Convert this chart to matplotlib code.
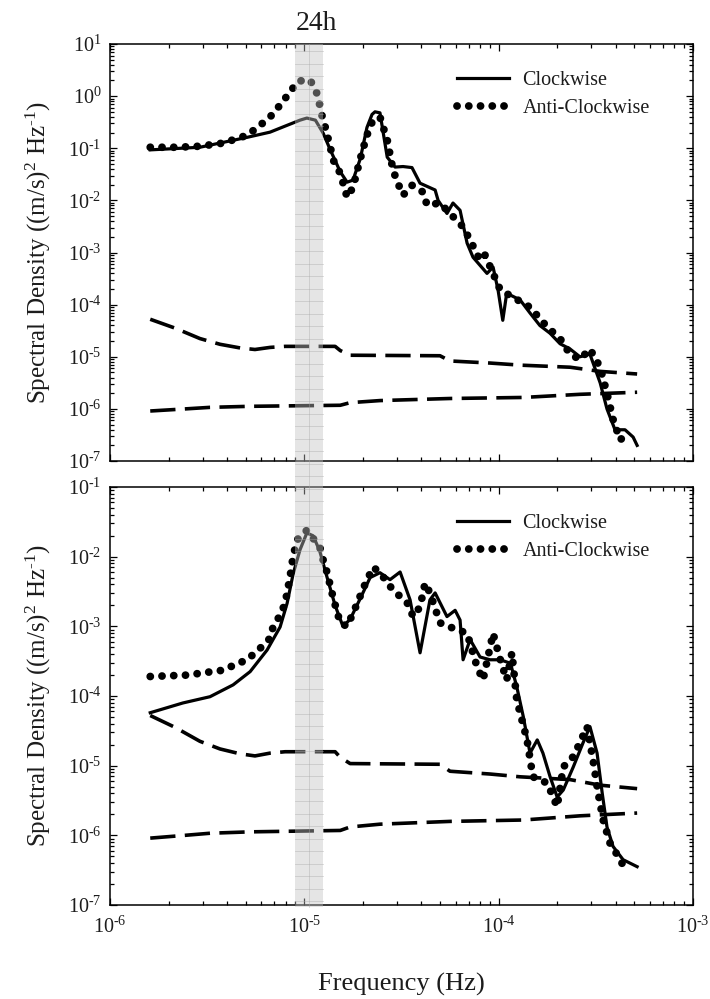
import numpy as np
import matplotlib
matplotlib.use("Agg")
import matplotlib.pyplot as plt
import matplotlib.transforms as mtransforms
from matplotlib.patches import Rectangle
from matplotlib.lines import Line2D
from matplotlib.ticker import LogLocator, NullFormatter, FuncFormatter

plt.rcParams["font.family"] = ["Liberation Serif", "DejaVu Serif"]
plt.rcParams["mathtext.fontset"] = "custom"
plt.rcParams["mathtext.rm"] = "Liberation Serif"
plt.rcParams["mathtext.it"] = "Liberation Serif:italic"
plt.rcParams["mathtext.bf"] = "Liberation Serif:bold"

# (frequency Hz, log10 spectral density)
top_cw = [(1.61e-6, -1.03), (2.90e-6, -0.98), (5.07e-6, -0.79), (6.66e-6, -0.69), (7.77e-6, -0.59),
          (9.50e-6, -0.46), (1.03e-5, -0.42), (1.14e-5, -0.46), (1.25e-5, -0.71), (1.36e-5, -1.03),
          (1.53e-5, -1.45), (1.66e-5, -1.65), (1.78e-5, -1.61), (1.94e-5, -1.20), (2.10e-5, -0.60),
          (2.23e-5, -0.35), (2.31e-5, -0.30), (2.45e-5, -0.32), (2.67e-5, -1.17), (2.93e-5, -1.36),
          (3.22e-5, -1.35), (3.58e-5, -1.37), (3.94e-5, -1.67), (4.71e-5, -1.80), (4.88e-5, -2.00),
          (5.42e-5, -2.25), (5.82e-5, -2.05), (6.33e-5, -2.19), (6.88e-5, -2.82), (7.38e-5, -3.09),
          (8.71e-5, -3.40), (9.36e-5, -3.28), (9.93e-5, -3.72), (1.05e-4, -4.30), (1.10e-4, -3.78),
          (1.29e-4, -3.91), (1.45e-4, -4.16), (1.63e-4, -4.40), (1.84e-4, -4.55), (2.07e-4, -4.75),
          (2.33e-4, -4.85), (2.62e-4, -5.00), (2.95e-4, -4.95), (3.33e-4, -5.50), (3.61e-4, -6.00),
          (3.97e-4, -6.40), (4.47e-4, -6.40), (4.92e-4, -6.54), (5.16e-4, -6.70)]

top_acw = [(1.61e-6, -0.98), (2.21e-6, -0.98), (2.90e-6, -0.96), (3.82e-6, -0.90), (5.07e-6, -0.75),
           (5.78e-6, -0.59), (6.66e-6, -0.40), (7.50e-6, -0.17), (8.44e-6, 0.08), (9.29e-6, 0.29),
           (1.07e-5, 0.31), (1.15e-5, 0.10), (1.19e-5, -0.11), (1.23e-5, -0.36), (1.28e-5, -0.59),
           (1.36e-5, -0.98), (1.41e-5, -1.23), (1.53e-5, -1.48), (1.66e-5, -1.94), (1.78e-5, -1.75),
           (1.94e-5, -1.20), (2.10e-5, -0.75), (2.23e-5, -0.50), (2.37e-5, -0.42), (2.45e-5, -0.40),
           (2.67e-5, -0.84), (2.86e-5, -1.42), (3.03e-5, -1.67), (3.22e-5, -1.90), (3.58e-5, -1.71),
           (4.08e-5, -1.84), (4.28e-5, -2.09), (4.99e-5, -2.05), (5.42e-5, -2.19), (6.56e-5, -2.51),
           (7.13e-5, -2.76), (8.02e-5, -3.15), (8.51e-5, -3.05), (9.36e-5, -3.40), (1.02e-4, -3.72),
           (1.19e-4, -3.86), (1.45e-4, -4.05), (1.78e-4, -4.43), (2.07e-4, -4.65), (2.33e-4, -4.95),
           (2.62e-4, -5.05), (2.95e-4, -4.85), (3.33e-4, -5.20), (3.61e-4, -5.70), (3.88e-4, -6.20),
           (4.22e-4, -6.60), (4.58e-4, -6.45)]

bot_cw = [(1.61e-6, -4.24), (2.37e-6, -4.10), (3.27e-6, -4.01), (4.30e-6, -3.84), (5.26e-6, -3.65),
          (6.43e-6, -3.34), (7.50e-6, -3.01), (8.15e-6, -2.67), (8.75e-6, -2.25), (9.50e-6, -1.90),
          (1.03e-5, -1.66), (1.11e-5, -1.70), (1.20e-5, -1.92), (1.31e-5, -2.30), (1.44e-5, -2.70),
          (1.58e-5, -3.00), (1.72e-5, -2.90), (1.94e-5, -2.60), (2.18e-5, -2.30), (2.45e-5, -2.23),
          (2.76e-5, -2.33), (3.11e-5, -2.22), (3.50e-5, -2.62), (3.94e-5, -3.38), (4.43e-5, -2.62),
          (4.71e-5, -2.52), (5.42e-5, -2.86), (5.97e-5, -2.77), (6.33e-5, -2.91), (6.56e-5, -3.48),
          (7.13e-5, -3.19), (8.02e-5, -3.44), (9.03e-5, -3.48), (1.02e-4, -3.48), (1.15e-4, -3.53),
          (1.24e-4, -3.87), (1.34e-4, -4.30), (1.45e-4, -4.82), (1.58e-4, -4.63), (1.69e-4, -4.82),
          (1.84e-4, -5.16), (2.00e-4, -5.45), (2.15e-4, -5.35), (2.42e-4, -5.02), (2.72e-4, -4.67),
          (2.95e-4, -4.44), (3.21e-4, -4.82), (3.41e-4, -5.39), (3.61e-4, -5.88), (3.88e-4, -6.16),
          (4.37e-4, -6.35), (5.16e-4, -6.45)]

bot_acw = [(1.61e-6, -3.72), (2.49e-6, -3.70), (3.35e-6, -3.65), (3.82e-6, -3.63), (4.40e-6, -3.55),
           (5.07e-6, -3.48), (5.85e-6, -3.33), (6.66e-6, -3.17), (6.90e-6, -3.01), (7.50e-6, -2.84),
           (7.96e-6, -2.67), (8.44e-6, -2.29), (8.75e-6, -2.00), (9.17e-6, -1.76), (1.03e-5, -1.62),
           (1.20e-5, -1.86), (1.25e-5, -2.05), (1.31e-5, -2.23), (1.41e-5, -2.60), (1.53e-5, -2.95),
           (1.66e-5, -3.00), (1.82e-5, -2.75), (2.05e-5, -2.40), (2.26e-5, -2.15), (2.45e-5, -2.23),
           (2.86e-5, -2.48), (3.38e-5, -2.66), (3.63e-5, -2.86), (3.94e-5, -2.72), (4.18e-5, -2.38),
           (4.43e-5, -2.52), (4.99e-5, -2.95), (5.62e-5, -3.01), (6.88e-5, -3.10), (7.74e-5, -3.58),
           (8.31e-5, -3.77), (9.36e-5, -3.10), (1.02e-4, -3.48), (1.10e-4, -3.77), (1.17e-4, -3.38),
           (1.24e-4, -4.06), (1.40e-4, -4.63), (1.50e-4, -5.16), (1.78e-4, -5.25), (2.00e-4, -5.59),
           (2.15e-4, -5.02), (2.42e-4, -4.87), (2.62e-4, -4.67), (2.85e-4, -4.44), (3.06e-4, -4.92),
           (3.25e-4, -5.39), (3.45e-4, -5.78), (3.74e-4, -6.11), (4.22e-4, -6.35), (4.58e-4, -6.54)]

# confidence limits, same in both panels
upper_lim = [(1.61e-6, -4.28), (2.16e-6, -4.45), (2.90e-6, -4.65), (3.68e-6, -4.76), (4.67e-6, -4.83),
             (5.57e-6, -4.86), (6.66e-6, -4.82), (7.96e-6, -4.80), (1.44e-5, -4.80), (1.53e-5, -4.88),
             (1.72e-5, -4.97), (4.99e-5, -4.98), (5.62e-5, -5.08), (9.03e-5, -5.12), (1.29e-4, -5.16),
             (2.33e-4, -5.20), (3.33e-4, -5.28), (5.16e-4, -5.33)]
lower_lim = [(1.61e-6, -6.04), (2.43e-6, -6.00), (3.27e-6, -5.97), (5.26e-6, -5.95), (1.53e-5, -5.93),
             (1.72e-5, -5.88), (2.45e-5, -5.84), (5.62e-5, -5.80), (1.34e-4, -5.78), (2.62e-4, -5.72),
             (5.16e-4, -5.68)]

band_lo, band_hi = 9.0e-6, 1.25e-5
f_24h = 1.0 / 86400.0

ink = "#1c1c1c"
HY = "\u2010"  # the figure uses a short hyphen in exponents


def pow_label(v, pos):
    e = int(round(np.log10(v)))
    s = (HY + str(-e)) if e < 0 else str(e)
    return "10$^{\\mathregular{" + s + "}}$"


fig = plt.figure(figsize=(7.10, 9.99), dpi=100)
ax_top = fig.add_axes([0.155, 0.5385, 0.821, 0.4174])
ax_bot = fig.add_axes([0.155, 0.0941, 0.821, 0.4184])


def curve(pairs):
    a = np.array(pairs)
    return a[:, 0], 10 ** a[:, 1]


for ax, cw, acw, ylim in [(ax_top, top_cw, top_acw, (1e-7, 1e1)),
                          (ax_bot, bot_cw, bot_acw, (1e-7, 1e-1))]:
    ax.set_facecolor("none")
    for lim in (upper_lim, lower_lim):
        f, p = curve(lim)
        ax.plot(f, p, color="black", lw=2.6, ls=(0, (7.0, 2.6)), solid_capstyle="butt")
    f, p = curve(cw)
    l1, = ax.plot(f, p, color="black", lw=2.3, solid_joinstyle="round", label="Clockwise")
    f, p = curve(acw)
    l2, = ax.plot(f, p, color="black", lw=5.6, ls=(0, (0.01, 1.5)),
                  dash_capstyle="round", label="Anti-Clockwise")

    ax.set_xscale("log")
    ax.set_yscale("log")
    ax.set_xlim(1e-6, 1e-3)
    ax.set_ylim(*ylim)
    for axis in (ax.xaxis, ax.yaxis):
        axis.set_major_locator(LogLocator(base=10, numticks=20))
        axis.set_major_formatter(FuncFormatter(pow_label))
        axis.set_minor_locator(LogLocator(base=10, subs=np.arange(2, 10), numticks=200))
        axis.set_minor_formatter(NullFormatter())
    ax.tick_params(which="both", direction="in", top=True, right=True, width=0.9,
                   colors="black", labelcolor=ink, labelsize=14.5)
    ax.tick_params(which="major", length=5)
    ax.tick_params(which="minor", length=2.6)
    ax.tick_params(axis="y", pad=6)
    ax.tick_params(axis="x", pad=8)
    for s in ax.spines.values():
        s.set_linewidth(1.1)

    ax.set_ylabel("Spectral Density ((m/s)$^{\\mathregular{2}}$ Hz$^{\\mathregular{" + HY + "1}}$)",
                  fontsize=18, color=ink)
    ax.yaxis.set_label_coords(-0.098, 0.5)

    ax.legend([l1, l2], ["Clockwise", "Anti-Clockwise"], loc="upper left",
              bbox_to_anchor=(0.595, 0.936), frameon=False, fontsize=14.5,
              handlelength=2.6, handletextpad=0.65, labelspacing=0.45,
              borderpad=0, borderaxespad=0, labelcolor=ink)

ax_top.tick_params(axis="x", labelbottom=False)
ax_bot.set_xlabel("Frequency (Hz)", fontsize=19, color=ink, va="top")
ax_bot.xaxis.set_label_coords(0.5, -0.163)

# 24 h band drawn over both panels and the gap between them
trans = mtransforms.blended_transform_factory(ax_bot.transData, fig.transFigure)
y0, y1 = 1 - 907 / 999, 1 - 44 / 999
fig.add_artist(Rectangle((band_lo, y0), band_hi - band_lo, y1 - y0, transform=trans,
                         facecolor="#c2c2c2", alpha=0.42, edgecolor="none", zorder=5))
for y in np.arange(y0 + 6 / 999, y1, 12.5 / 999):
    fig.add_artist(Line2D([band_lo, band_hi], [y, y], transform=trans, color="#a8a8a8",
                          lw=0.6, alpha=0.45, zorder=6))
fig.add_artist(Line2D([np.sqrt(band_lo * band_hi)] * 2, [y0, y1], transform=trans,
                      color="#a8a8a8", lw=0.6, alpha=0.45, zorder=6))
fig.text(f_24h, 1 - 23 / 999, "24h", transform=trans, ha="center", va="center",
         fontsize=20, color=ink)

fig.savefig("out.png", dpi=100)
